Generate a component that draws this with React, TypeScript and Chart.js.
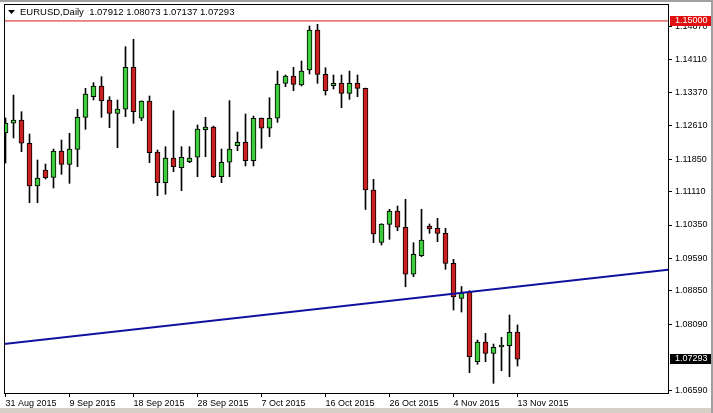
import React, { useEffect, useRef } from "react";
import { Chart, registerables } from "chart.js";

Chart.register(...registerables);

const SYMBOL = "EURUSD";
const PERIOD = "Daily";

// Daily OHLC, one entry per bar (bar 0 = 31 Aug 2015 ... bar 64 = 13 Nov 2015)
const OPEN = [
  1.12446, 1.12668, 1.12743, 1.12212, 1.11239, 1.11603, 1.11437, 1.12036, 1.11733, 1.12075,
  1.12804, 1.13274, 1.13518, 1.13199, 1.12895, 1.12987, 1.13944, 1.12782, 1.13176, 1.12014,
  1.11314, 1.11877, 1.11656, 1.11793, 1.11893, 1.12522, 1.12583, 1.11451, 1.11779, 1.12157,
  1.12235, 1.11815, 1.12782, 1.12554, 1.12782, 1.13579, 1.13745, 1.1354, 1.13882, 1.14794,
  1.13784, 1.13524, 1.13579, 1.13351, 1.13579, 1.13465, 1.11148, 1.09956, 1.10366, 1.10669,
  1.10298, 1.09227, 1.0965, 1.10327, 1.10275, 1.10161, 1.09477, 1.0868, 1.08816, 1.07235,
  1.07684, 1.07426, 1.0757, 1.076, 1.07912,
];
const HIGH = [
  1.12788, 1.13312, 1.12932, 1.12424, 1.11831, 1.1174, 1.12082, 1.12287, 1.1244, 1.12987,
  1.13465, 1.13593, 1.13729, 1.13274, 1.13199, 1.14413, 1.14582, 1.1318, 1.1329, 1.12059,
  1.12134, 1.12955, 1.12134, 1.12134, 1.12629, 1.12804, 1.12606, 1.12082, 1.13183, 1.12469,
  1.1288, 1.12834, 1.1279, 1.13251, 1.13859, 1.13768, 1.13944, 1.14087, 1.14885, 1.14924,
  1.13935, 1.13768, 1.13768, 1.13859, 1.13768, 1.1347, 1.11391, 1.1038, 1.10708, 1.10783,
  1.10936, 1.09947, 1.10708, 1.10373, 1.10503, 1.10275, 1.09568, 1.08949, 1.08853, 1.07729,
  1.07882, 1.07638, 1.07791, 1.08299, 1.08073,
];
const LOW = [
  1.11763, 1.12333, 1.1202, 1.10858, 1.10858, 1.11398, 1.11193, 1.11505, 1.113, 1.11679,
  1.12531, 1.13199, 1.12804, 1.12567, 1.12112, 1.12818, 1.12668, 1.12727, 1.1177, 1.11018,
  1.1105, 1.11565, 1.11132, 1.1177, 1.11451, 1.11906, 1.11428, 1.11314, 1.11451, 1.12043,
  1.11695, 1.11695, 1.12098, 1.12362, 1.1269, 1.13502, 1.1341, 1.13518, 1.13791, 1.13579,
  1.13312, 1.13449, 1.13023, 1.13214, 1.13274, 1.10703, 1.09947, 1.09894, 1.10024, 1.1022,
  1.08944, 1.09172, 1.09628, 1.10161, 1.0997, 1.09341, 1.08413, 1.08367, 1.06984, 1.07176,
  1.07235, 1.06743, 1.0703, 1.06893, 1.07137,
];
const CLOSE = [
  1.12674, 1.12743, 1.12212, 1.11239, 1.11421, 1.11428, 1.12036, 1.11733, 1.12082, 1.12804,
  1.13335, 1.13518, 1.13183, 1.12895, 1.12993, 1.13944, 1.12932, 1.13176, 1.11998, 1.11314,
  1.11877, 1.11679, 1.11893, 1.11877, 1.12538, 1.12583, 1.11451, 1.11779, 1.12082, 1.12235,
  1.11815, 1.12782, 1.12554, 1.12782, 1.13563, 1.13745, 1.13556, 1.13859, 1.14794, 1.13784,
  1.1341, 1.13579, 1.13351, 1.13579, 1.13465, 1.11148, 1.10145, 1.10373, 1.10669, 1.10298,
  1.09227, 1.09682, 1.10008, 1.10259, 1.10161, 1.09477, 1.08709, 1.088, 1.07349, 1.07684,
  1.07426, 1.07563, 1.0758, 1.07905, 1.07293,
];

const DATE_TICK_BARS = [0, 8, 16, 24, 32, 40, 48, 56, 64];
const DATE_TICK_LABELS = [
  "31 Aug 2015", "9 Sep 2015", "18 Sep 2015", "28 Sep 2015", "7 Oct 2015",
  "16 Oct 2015", "26 Oct 2015", "4 Nov 2015", "13 Nov 2015",
];
const PRICE_TICKS = [
  1.1487, 1.1411, 1.1337, 1.1261, 1.1185, 1.1111, 1.1035, 1.0959, 1.0885, 1.0809, 1.0659,
];

const ALERT_LEVEL = 1.15;
const TREND_BARS = [-1, 83];
const TREND_PRICES = [1.07623, 1.09335];

// view window
const X_MIN = -0.1875;
const X_MAX = 82.8125;
const Y_MIN = 1.06522;
const Y_MAX = 1.15386;

const FONT = "'Liberation Sans', Arial, sans-serif";
const BULL = "#3ccc3c";
const BEAR = "#cc2020";

const mtPlugin = {
  id: "mtDecor",
  beforeDraw(chart: any) {
    const { ctx, width, height } = chart;
    ctx.save();
    ctx.fillStyle = "#ffffff";
    ctx.fillRect(0, 0, width, height);
    ctx.fillStyle = "#a0a0a0";
    ctx.fillRect(0, 0, width, 2);
    ctx.fillRect(width - 2, 0, 2, height);
    ctx.fillStyle = "#d4d0c8";
    ctx.fillRect(0, height - 5, width - 2, 5);
    ctx.restore();
  },
  afterDraw(chart: any) {
    const { ctx, chartArea } = chart;
    const yScale = chart.scales.y;
    ctx.save();
    // frame of the chart window
    ctx.strokeStyle = "#000";
    ctx.lineWidth = 1;
    ctx.strokeRect(
      chartArea.left + 0.5,
      chartArea.top + 0.5,
      chartArea.right - chartArea.left,
      chartArea.bottom - chartArea.top
    );
    // header
    ctx.fillStyle = "#000";
    ctx.beginPath();
    ctx.moveTo(chartArea.left + 4, chartArea.top + 6);
    ctx.lineTo(chartArea.left + 11, chartArea.top + 6);
    ctx.lineTo(chartArea.left + 7.5, chartArea.top + 10);
    ctx.closePath();
    ctx.fill();
    const n = CLOSE.length - 1;
    const header = `${SYMBOL},${PERIOD}  ${OPEN[n].toFixed(5)} ${HIGH[n].toFixed(5)} ${LOW[n].toFixed(5)} ${CLOSE[n].toFixed(5)}`;
    ctx.font = `9.5px ${FONT}`;
    ctx.textBaseline = "middle";
    ctx.textAlign = "left";
    ctx.fillText(header, chartArea.left + 16, chartArea.top + 8.5);

    // price labels on the axis
    const drawTag = (price: number, bg: string) => {
      const y = yScale.getPixelForValue(price);
      ctx.fillStyle = bg;
      ctx.fillRect(chartArea.right + 2, Math.round(y) - 5, 41, 10);
      ctx.fillStyle = "#fff";
      ctx.font = `9px ${FONT}`;
      ctx.textBaseline = "middle";
      ctx.fillText(price.toFixed(5), chartArea.right + 7, Math.round(y));
    };
    drawTag(ALERT_LEVEL, "#e01010");
    drawTag(CLOSE[n], "#000000");
    ctx.restore();
  },
};

export default function App() {
  const ref = useRef<HTMLCanvasElement>(null);
  useEffect(() => {
    const canvas = ref.current;
    if (!canvas) return;
    const chart = new Chart(canvas, {
      type: "bar",
      data: {
        datasets: [
          {
            type: "line",
            label: "trend",
            data: TREND_BARS.map((b, i) => ({ x: b, y: TREND_PRICES[i] })),
            borderColor: "#1010a0",
            borderWidth: 2,
            pointRadius: 0,
            clip: 0,
            order: 0,
          } as any,
          {
            type: "line",
            label: "alert",
            data: [
              { x: X_MIN, y: ALERT_LEVEL },
              { x: X_MAX, y: ALERT_LEVEL },
            ],
            borderColor: "#d01818",
            borderWidth: 1,
            pointRadius: 0,
            clip: 0,
            order: 0,
          } as any,
          {
            type: "bar",
            label: "body",
            data: OPEN.map((o, i) => ({ x: i, y: [o, CLOSE[i]] })),
            backgroundColor: OPEN.map((o, i) => (CLOSE[i] >= o ? BULL : BEAR)),
            borderColor: "#000",
            borderWidth: 1,
            borderSkipped: false,
            barThickness: 5,
            minBarLength: 2,
            grouped: false,
            order: 1,
          } as any,
          {
            type: "bar",
            label: "wick",
            data: LOW.map((l, i) => ({ x: i, y: [l, HIGH[i]] })),
            backgroundColor: "#000",
            borderWidth: 0,
            barThickness: 1,
            grouped: false,
            order: 2,
          } as any,
        ],
      },
      options: {
        responsive: false,
        devicePixelRatio: 1,
        animation: false,
        events: [],
        layout: { padding: { left: 4, top: 4, right: 0, bottom: 0 } },
        plugins: { legend: { display: false }, tooltip: { enabled: false } },
        scales: {
          x: {
            type: "linear",
            min: X_MIN,
            max: X_MAX,
            offset: false,
            grid: {
              display: true,
              drawOnChartArea: false,
              drawTicks: true,
              tickLength: 4,
              color: "#000",
              offset: false,
            },
            border: { display: false },
            ticks: {
              autoSkip: false,
              maxRotation: 0,
              minRotation: 0,
              align: "start",
              padding: 1,
              color: "#000",
              font: { family: FONT, size: 9 },
              callback: (v: any) => {
                const k = DATE_TICK_BARS.indexOf(Number(v));
                return k >= 0 ? DATE_TICK_LABELS[k] : "";
              },
            },
            afterBuildTicks: (s: any) => {
              s.ticks = DATE_TICK_BARS.map((v) => ({ value: v }));
            },
            afterFit: (s: any) => {
              s.height = 20;
              s.paddingLeft = 0;
              s.paddingRight = 0;
            },
          },
          y: {
            type: "linear",
            position: "right",
            min: Y_MIN,
            max: Y_MAX,
            grid: {
              display: true,
              drawOnChartArea: false,
              drawTicks: true,
              tickLength: 4,
              color: "#000",
            },
            border: { display: false },
            ticks: {
              padding: 3,
              color: "#000",
              font: { family: FONT, size: 9 },
              callback: (v: any) => Number(v).toFixed(5),
            },
            afterBuildTicks: (s: any) => {
              s.ticks = PRICE_TICKS.map((v) => ({ value: v }));
            },
            afterFit: (s: any) => {
              s.width = 45;
              s.paddingTop = 0;
              s.paddingBottom = 0;
            },
          },
        },
      } as any,
      plugins: [mtPlugin],
    });
    return () => chart.destroy();
  }, []);
  return (
    <div style={{ position: "fixed", left: 0, top: 0, width: 713, height: 413, background: "#fff" }}>
      <canvas ref={ref} width={713} height={413} style={{ display: "block", width: 713, height: 413 }} />
    </div>
  );
}
